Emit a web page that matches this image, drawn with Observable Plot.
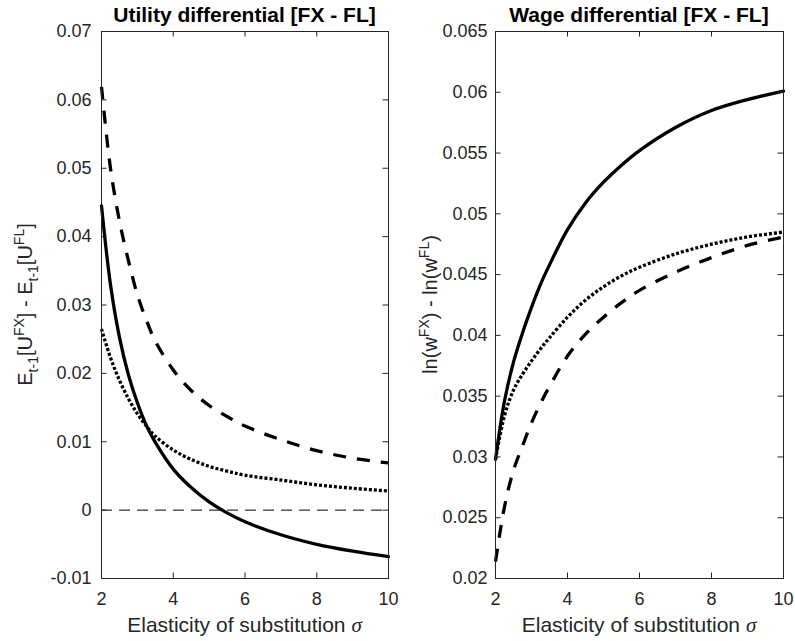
<!DOCTYPE html>
<html><head><meta charset="utf-8">
<script src="https://cdn.jsdelivr.net/npm/d3@7"></script>
<script src="https://cdn.jsdelivr.net/npm/@observablehq/plot@0.6"></script>
<style>
body{margin:0;background:#fff;}
#fig{display:flex;width:795px;height:641px;}
#fig svg{font-family:"Liberation Sans",Arial,sans-serif;}
</style></head><body><div id="fig"></div>
<script>
// Elasticity of substitution (x values shared by all curves)
const sigma = [2, 2.25, 2.5, 2.75, 3, 3.25, 3.5, 4, 4.5, 5, 5.5, 6, 7, 8, 9, 10];

// Left panel: utility differential
const utilSolid  = [0.0445, 0.0330, 0.0253, 0.0198, 0.0157, 0.0124, 0.0099, 0.0060, 0.0033, 0.0012, -0.0004, -0.0017, -0.0036, -0.0050, -0.0060, -0.0068];
const utilDashed = [0.0619, 0.0500, 0.0423, 0.0365, 0.0315, 0.0278, 0.0247, 0.0205, 0.0175, 0.0153, 0.0137, 0.0123, 0.0103, 0.0087, 0.0076, 0.0069];
const utilDotted = [0.0265, 0.0223, 0.0190, 0.0163, 0.0141, 0.0123, 0.0108, 0.0088, 0.0074, 0.0064, 0.0057, 0.0051, 0.0044, 0.0037, 0.0032, 0.0028];

// Right panel: wage differential
const wageSolid  = [0.0298, 0.0346, 0.0378, 0.0402, 0.0423, 0.0442, 0.0458, 0.0487, 0.0509, 0.0526, 0.0540, 0.0552, 0.0571, 0.0585, 0.0594, 0.0601];
const wageDashed = [0.0214, 0.0259, 0.0289, 0.0309, 0.0328, 0.0344, 0.0358, 0.0383, 0.0401, 0.0415, 0.0427, 0.0437, 0.0452, 0.0464, 0.0474, 0.0481];
const wageDotted = [0.0298, 0.0334, 0.0355, 0.0368, 0.0379, 0.0389, 0.0398, 0.0415, 0.0429, 0.0440, 0.0449, 0.0456, 0.0467, 0.0475, 0.0481, 0.0485];

// Ticks
const xTicks = [2, 4, 6, 8, 10];
const yTicksLeft = [-0.01, 0, 0.01, 0.02, 0.03, 0.04, 0.05, 0.06, 0.07];
const yTicksRight = [0.02, 0.025, 0.03, 0.035, 0.04, 0.045, 0.05, 0.055, 0.06, 0.065];

// Titles and labels
const titleLeft = "Utility differential [FX - FL]";
const titleRight = "Wage differential [FX - FL]";
const xLabelText = "Elasticity of substitution ";
const xLabelSymbol = "σ";
const yLabelLeft = [["E",""],["t-1","sub"],["[U",""],["FX","sup"],["] - E",""],["t-1","sub"],["[U",""],["FL","sup"],["]",""]];
const yLabelRight = [["ln(w",""],["FX","sup"],[") - ln(w",""],["FL","sup"],[")",""]];

function rows(vals){ return sigma.map((s,i)=>({s, v: vals[i]})); }

function panel(o){
  const H = 641, mt = 31, mb = 63, mr = 12;
  const fw = o.width - o.marginLeft - mr, fh = H - mt - mb;
  const tk = 5.5, axc = "#262626", lw = 3.3;
  const marks = [];
  if (o.zeroLine) marks.push(Plot.ruleY([0], {stroke:"#000", strokeWidth:1, strokeDasharray:"11,7", strokeLinecap:"butt"}));
  marks.push(
    Plot.line(rows(o.dashed), {x:"s", y:"v", stroke:"#000", strokeWidth:lw, strokeDasharray:"13,11", strokeLinecap:"butt", curve:"catmull-rom"}),
    Plot.line(rows(o.dotted), {x:"s", y:"v", stroke:"#000", strokeWidth:lw, strokeDasharray:"3,2", strokeLinecap:"butt", curve:"catmull-rom"}),
    Plot.line(rows(o.solid),  {x:"s", y:"v", stroke:"#000", strokeWidth:lw, curve:"catmull-rom"}),
    Plot.frame({stroke:axc}),
    Plot.tickX(xTicks, {x:d=>d, stroke:axc, insetTop: fh - tk}),
    Plot.tickX(xTicks, {x:d=>d, stroke:axc, insetBottom: fh - tk}),
    Plot.tickY(o.yTicks, {y:d=>d, stroke:axc, insetRight: fw - tk}),
    Plot.tickY(o.yTicks, {y:d=>d, stroke:axc, insetLeft: fw - tk}),
    Plot.axisX(xTicks, {tickSize:0, tickPadding:14, fontSize:18, fill:axc, label:null, tickFormat:d=>String(d)}),
    Plot.axisY(o.yTicks, {tickSize:0, tickPadding:o.tickPad, fontSize:18, fill:axc, label:null, tickFormat:d=>String(d)})
  );
  const p = Plot.plot({
    width:o.width, height:H, marginLeft:o.marginLeft, marginRight:mr, marginTop:mt, marginBottom:mb,
    x:{domain:[2,10]}, y:{domain:o.yDomain},
    style:{fontSize:"18px", background:"#fff", overflow:"visible"},
    marks
  });
  const svg = d3.select(p);
  const cx = o.marginLeft + fw/2;
  svg.append("text").attr("x", cx).attr("y", 22).attr("text-anchor","middle")
    .attr("font-weight","bold").attr("font-size",21).attr("fill","#000").text(o.title);
  const xl = svg.append("text").attr("x", cx).attr("y", 632).attr("text-anchor","middle")
    .attr("font-size",21).attr("fill",axc);
  xl.append("tspan").text(xLabelText);
  xl.append("tspan").attr("font-family","'Liberation Serif','DejaVu Serif',serif").attr("font-style","italic").text(xLabelSymbol);
  const yl = svg.append("text").attr("transform",`translate(${o.ylabelX},${mt+fh/2}) rotate(-90)`)
    .attr("text-anchor","middle").attr("font-size",20).attr("fill",axc);
  let shift = 0;
  for (const [t, k] of o.ylabel){
    const target = k==="sub" ? 6 : k==="sup" ? -8 : 0;
    const ts = yl.append("tspan").attr("dy", target - shift).text(t);
    if (k) ts.attr("font-size",14);
    shift = target;
  }
  return p;
}

const fig = document.getElementById("fig");
fig.appendChild(panel({width:400, marginLeft:101, yDomain:[-0.01,0.07], yTicks:yTicksLeft, tickPad:10,
  solid:utilSolid, dashed:utilDashed, dotted:utilDotted, zeroLine:true, title:titleLeft, ylabel:yLabelLeft, ylabelX:32}));
fig.appendChild(panel({width:395, marginLeft:95, yDomain:[0.02,0.065], yTicks:yTicksRight, tickPad:8,
  solid:wageSolid, dashed:wageDashed, dotted:wageDotted, zeroLine:false, title:titleRight, ylabel:yLabelRight, ylabelX:37}));
</script>
</body></html>
